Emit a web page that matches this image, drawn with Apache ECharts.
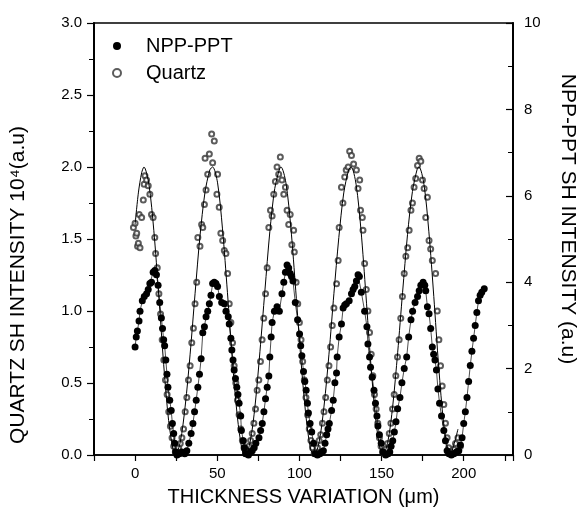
<!DOCTYPE html>
<html>
<head>
<meta charset="utf-8">
<script src="https://cdn.jsdelivr.net/npm/echarts@6/dist/echarts.min.js"></script>
<style>
html,body{margin:0;padding:0;background:#fff;}
#chart{width:586px;height:519px;}
</style>
</head>
<body>
<div id="chart"></div>
<script>
// ---- Data ----
// Fitted curve for Quartz (left axis, 10^4 a.u)
var fitX = [0,2,4,5.4,8.4,11.4,14.4,17.4,20.4,23.4,24.5,
  27.5,30.5,33.5,36.5,39.5,42.5,45.5,47.2,50.2,53.2,56.2,59.2,62.2,65.2,67,
  70,73,76,79,82,85,88,88.8,91.8,94.8,97.8,100.8,103.8,106.8,109,
  112,115,118,121,124,127,130,131.5,134.5,137.5,140.5,143.5,146.5,149.5,150.8,
  153.8,156.8,159.8,162.8,165.8,168.8,171.8,172.8,175.8,178.8,181.8,184.8,187.8,190.8,191.5,
  194.5,196.5];
var fitY = [1.60,1.82,1.96,2.00,1.88,1.56,1.11,0.63,0.24,0.02,0.00,
  0.09,0.34,0.70,1.12,1.52,1.82,1.98,2.00,1.89,1.57,1.13,0.66,0.27,0.03,0.00,
  0.09,0.34,0.72,1.14,1.55,1.85,1.99,2.00,1.89,1.58,1.14,0.68,0.29,0.04,0.00,
  0.09,0.34,0.70,1.12,1.51,1.82,1.98,2.00,1.88,1.56,1.11,0.63,0.24,0.02,0.00,
  0.09,0.34,0.71,1.13,1.53,1.83,1.99,2.00,1.88,1.55,1.10,0.61,0.22,0.01,0.00,
  0.09,0.18];

// Quartz measured points (left axis)
var quartzX = [-1,0,0.5,1,1.5,2,2.5,3,4,5,5.5,6,7,8,9,10,11,12,12.5,13.5,14.5,15.5,16.5,17.5,18.5,19.5,20.5,21.5,22.5,23.5,24.5,25.5,26.5,27.5,
  28.5,29.5,30.5,31.5,32.5,33.5,34.5,35.5,36.5,37.5,38.2,39.5,40.5,41.2,42.2,43.2,42.6,44.2,45.2,46.6,47.2,48.2,49.8,50.2,51.2,52.2,53.3,54.3,55.3,56.3,57.3,58.3,59.3,60.3,61.3,62.3,63.3,64.3,65.3,66.3,67.3,68.3,69.3,
  70.3,71.3,72.3,73.3,74.3,75.3,76.3,77.3,78.3,79.4,80.4,81.4,82.4,83.4,84.4,85.4,86.4,87.4,88.4,89.4,90.5,91.5,92.5,93.5,94.4,95.4,96.5,96.9,98,99,100,101,102,103,104,105,106,107,108,109,110,111,
  112,113,114,115,116,117,118,119,120,121,122.6,123.6,124.2,125.6,126.5,127.6,128.5,129.7,130.6,131.7,133,134.7,135.7,136.7,137.2,138.3,138.7,139.7,140.7,141.7,142.7,143.7,144.7,145.7,146.7,147.7,148.7,149.7,150.7,151.7,152.7,
  153.7,154.7,155.7,156.7,157.7,158.7,159.7,160.7,161.7,162.7,163.8,164.8,165.9,166.8,167.9,168.8,169.8,170.8,171.9,172.9,173.9,174.9,175.9,176.9,177.9,178.9,179.9,180.9,182.9,183.9,184.9,185.9,186.9,187.9,188.9,189.9,190.9,191.9,193,194,195,196.5,198];
var quartzY = [1.58,1.61,1.52,1.54,1.45,1.47,1.67,1.44,1.65,1.77,1.88,1.94,1.91,1.87,1.81,1.67,1.65,1.51,1.40,1.30,1.12,0.98,0.80,0.66,0.52,0.42,0.30,0.20,0.12,0.06,0.02,0.01,0.05,0.08,
  0.12,0.18,0.30,0.40,0.52,0.62,0.78,0.88,1.05,1.20,1.51,1.45,1.60,1.58,1.74,1.84,2.06,1.95,2.09,2.23,2.03,2.18,1.81,1.95,1.72,1.54,1.49,1.42,1.40,1.26,1.05,0.92,0.78,0.62,0.50,0.38,0.28,0.18,0.10,0.05,0.01,0.02,0.06,
  0.10,0.15,0.22,0.32,0.45,0.52,0.65,0.80,0.95,1.12,1.30,1.58,1.70,1.66,1.81,1.90,2.00,1.95,2.07,1.91,1.81,1.86,1.70,1.60,1.67,1.46,1.56,1.41,1.20,1.05,0.92,0.80,0.65,0.52,0.40,0.28,0.18,0.10,0.05,0.01,0.02,0.05,
  0.10,0.14,0.22,0.30,0.40,0.52,0.62,0.75,0.90,1.02,1.19,1.35,1.58,1.86,1.75,1.93,1.98,2.00,2.11,2.08,2.02,1.98,1.85,1.91,1.70,1.65,1.56,1.33,1.15,1.00,0.85,0.70,0.55,0.42,0.32,0.22,0.12,0.06,0.02,0.01,0.04,
  0.08,0.15,0.22,0.32,0.42,0.55,0.68,0.80,0.95,1.10,1.26,1.38,1.44,1.56,1.70,1.75,1.86,1.92,2.01,2.06,2.04,1.91,1.85,1.65,1.79,1.49,1.43,1.35,1.26,1.00,0.80,0.62,0.48,0.35,0.22,0.12,0.05,0.02,0.01,0.04,0.08,0.12,0.06];

// NPP-PPT measured points (right axis, a.u)
var nppX = [0,0.7,1.4,2.4,3,4.4,5.6,7,8,9,10,11,12,13,14,15,16,16.7,17.4,18,18.7,19.4,20,21.1,22,22.7,23.5,24.1,24.7,25.5,27,28.5,
  30.2,31.5,32.7,34.1,35.2,36.2,37.2,38.2,39.2,40.2,41.2,42.2,43.2,44.2,45.2,46.2,47.2,48.2,49.2,50.2,51.3,52.7,54.3,55.3,56.7,57.3,58.3,58.9,59.6,60.3,61.1,61.9,62.6,63.3,64.3,64.7,65.9,66.6,67.3,69,
  70.3,71.3,72.5,73.5,75.4,76.4,77.4,78.4,79.4,80.4,81.4,82,82.8,83.4,84.8,86.4,87.8,89.4,90.5,91.5,92.5,93.5,94.4,95.2,96.1,97.5,98.9,100.1,100.8,101.5,102.5,103.3,104.1,104.9,105.5,106.5,107.5,108.6,109.5,111,
  112.5,113.6,114.6,115.6,116.6,117.4,118.2,119.6,120.6,121.6,122.6,123,124.2,125.6,126.6,127.6,128.6,130.3,131.7,132.7,133.7,134.7,135.7,136.5,137.7,139.7,141.1,141.7,142.7,143.3,144.3,145.4,146.3,147.2,147.8,148.7,149.8,150.8,152.5,
  154,155,155.8,156.8,157.8,158.8,159.8,161.2,162.4,163.8,165.3,166.5,167.9,168.9,170.4,171.9,172.9,173.9,175.3,176.3,176.9,177.9,178.9,179.9,180.9,181.7,182.5,183.4,184.3,185.3,186.5,187.9,188.9,189.9,191,192.5,
  194,195.5,197,198,199,200,201,202,203,204,205,206,207,208,209,210,211,212.5];
var nppY = [2.50,2.73,2.87,3.10,3.33,3.57,3.67,3.73,3.83,3.97,4.00,4.23,4.27,4.17,3.93,3.53,3.17,2.93,2.67,2.53,2.20,1.87,1.57,1.27,1.03,0.73,0.50,0.27,0.07,0.00,0.03,0.07,
  0.03,0.10,0.27,0.50,0.73,1.00,1.27,1.57,1.87,2.23,2.83,2.97,3.20,3.33,3.50,3.70,3.97,4.00,3.97,3.90,3.67,3.53,3.50,3.33,3.20,3.03,2.70,2.43,2.20,1.97,1.77,1.57,1.40,1.20,0.90,0.57,0.33,0.17,0.03,0.00,
  0.07,0.10,0.17,0.27,0.40,0.57,0.73,1.00,1.30,1.57,1.83,2.27,2.73,3.07,3.33,3.43,3.33,3.73,4.00,4.23,4.40,4.33,4.20,4.13,4.03,3.53,3.13,2.80,2.53,2.30,1.93,1.70,1.50,1.20,0.97,0.73,0.53,0.27,0.03,0.00,
  0.03,0.07,0.10,0.27,0.47,0.60,0.73,1.03,1.27,1.67,1.90,2.27,2.73,3.03,3.40,3.47,3.50,3.57,3.73,3.83,3.90,4.03,4.17,4.13,3.77,3.33,2.97,2.57,2.27,2.03,1.80,1.50,1.20,0.90,0.67,0.47,0.27,0.07,0.00,
  0.03,0.07,0.20,0.33,0.53,0.77,1.07,1.33,1.67,2.00,2.27,2.73,3.13,3.33,3.53,3.67,3.80,3.93,4.00,3.93,3.80,3.43,3.27,2.93,2.50,2.33,2.20,1.97,1.53,1.20,0.90,0.57,0.33,0.10,0.03,0.00,
  0.03,0.07,0.10,0.23,0.40,0.73,1.00,1.33,1.70,2.07,2.40,2.70,3.00,3.30,3.57,3.70,3.77,3.85];

// Axis tick labels
var xTickLabels = [0, 50, 100, 150, 200];
var leftTickLabels = ['0.0','0.5','1.0','1.5','2.0','2.5','3.0'];
var rightTickLabels = ['0','2','4','6','8','10'];

// ---- Chart ----
function pairs(xs, ys){ return xs.map(function(x,i){ return [x, ys[i]]; }); }
var FONT = '"Liberation Sans", Arial, sans-serif';
var chart = echarts.init(document.getElementById('chart'), null, {renderer:'canvas'});
chart.setOption({
  backgroundColor:'#fff',
  animation:false,
  textStyle:{fontFamily:FONT, color:'#000'},
  grid:{left:93, right:69, top:23, bottom:64, show:true, borderColor:'#000', borderWidth:1.5, backgroundColor:'transparent'},
  legend:{
    orient:'vertical', left:107, top:31, itemWidth:40, itemHeight:8, itemGap:7,
    textStyle:{fontFamily:FONT, fontSize:20, color:'#000', padding:[0,0,0,4]},
    data:[{name:'NPP-PPT', icon:'circle'},{name:'Quartz', icon:'emptyCircle'}]
  },
  xAxis:{
    type:'value', min:-25, max:230, interval:25,
    name:'THICKNESS VARIATION (\u03bcm)', nameLocation:'middle', nameGap:32,
    nameTextStyle:{fontFamily:FONT, fontSize:20, color:'#000'},
    axisLine:{onZero:false, lineStyle:{color:'#000', width:1.5}},
    axisTick:{length:6, lineStyle:{color:'#000', width:1.2}},
    axisLabel:{margin:11, fontSize:15, color:'#000', fontFamily:FONT,
      formatter:function(v){ return xTickLabels.indexOf(v) >= 0 ? String(v) : ''; }},
    splitLine:{show:false}
  },
  yAxis:[{
    type:'value', min:0, max:3, interval:0.5, position:'left',
    name:'QUARTZ SH INTENSITY 10\u2074(a.u)', nameLocation:'middle', nameGap:65, nameRotate:90,
    nameTextStyle:{fontFamily:FONT, fontSize:21, color:'#000', padding:[0,92,0,0]},
    axisLine:{show:true, onZero:false, lineStyle:{color:'#000', width:2}},
    axisTick:{length:7, lineStyle:{color:'#000', width:1.2}},
    minorTick:{show:true, splitNumber:2, length:5, lineStyle:{color:'#000', width:1}},
    axisLabel:{margin:12, fontSize:15, color:'#000', fontFamily:FONT,
      formatter:function(v){ return leftTickLabels[Math.round(v*2)]; }},
    splitLine:{show:false}
  },{
    type:'value', min:0, max:10, interval:2, position:'right',
    name:'NPP-PPT SH INTENSITY (a.u)', nameLocation:'middle', nameGap:44, nameRotate:-90,
    nameTextStyle:{fontFamily:FONT, fontSize:21, color:'#000', padding:[0,40,0,0]},
    axisLine:{show:true, onZero:false, lineStyle:{color:'#000', width:2}},
    axisTick:{inside:true, length:7, lineStyle:{color:'#000', width:1.2}},
    minorTick:{show:true, splitNumber:2, length:5, lineStyle:{color:'#000', width:1}},
    axisLabel:{margin:11, fontSize:15, color:'#000', fontFamily:FONT,
      formatter:function(v){ return rightTickLabels[Math.round(v/2)]; }},
    splitLine:{show:false}
  }],
  series:[{
    name:'fit', type:'line', yAxisIndex:0, data:pairs(fitX, fitY),
    showSymbol:false, symbol:'none', smooth:0.3,
    lineStyle:{color:'#000', width:1}, z:3, silent:true
  },{
    name:'Quartz', type:'scatter', yAxisIndex:0, data:pairs(quartzX, quartzY),
    symbol:'emptyCircle', symbolSize:5,
    itemStyle:{color:'#333', borderColor:'#333', borderWidth:0.8}, z:2
  },{
    name:'NPP-PPT', type:'line', yAxisIndex:1, data:pairs(nppX, nppY),
    symbol:'circle', symbolSize:7, showAllSymbol:true,
    lineStyle:{color:'#000', width:0.7},
    itemStyle:{color:'#000', borderColor:'#000', borderWidth:0}, z:4
  }]
});
</script>
</body>
</html>
